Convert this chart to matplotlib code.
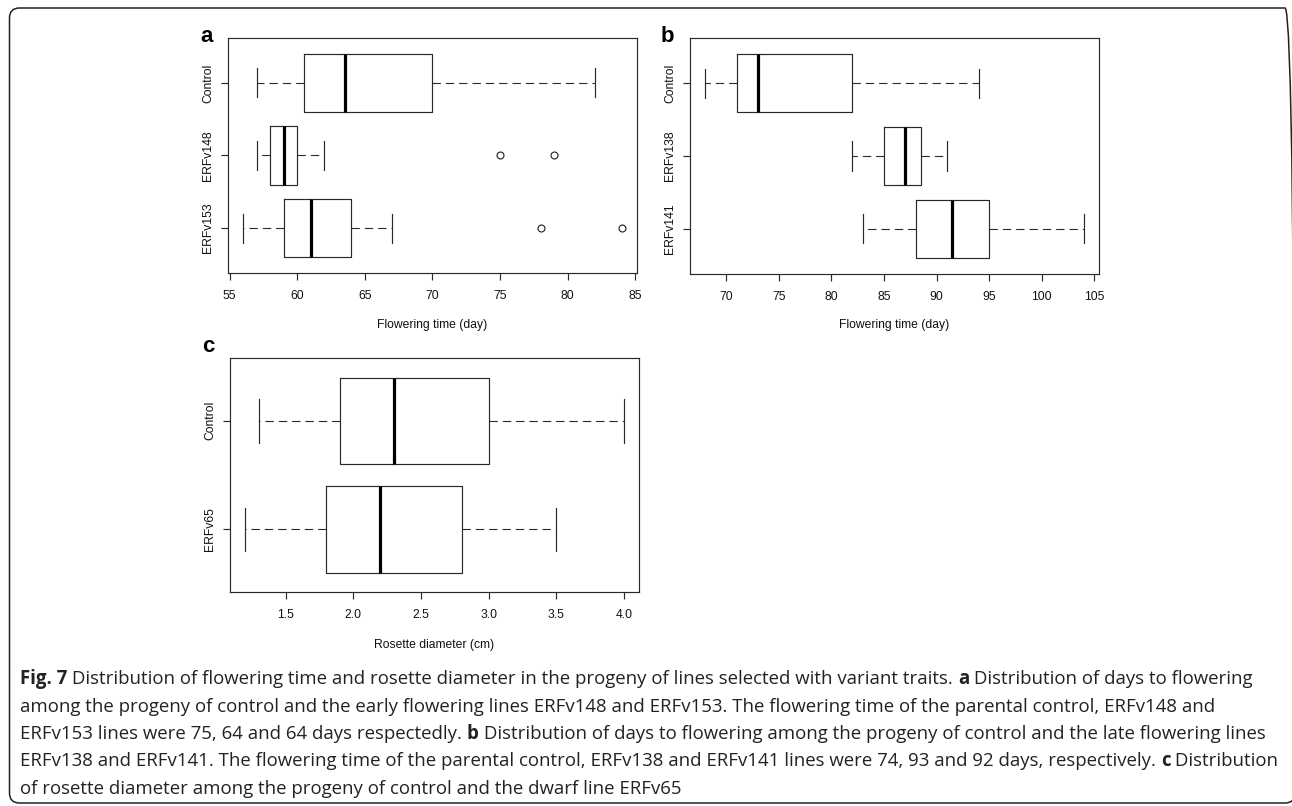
import matplotlib
matplotlib.use("Agg")
import matplotlib.pyplot as plt
from matplotlib.patches import FancyBboxPatch
from matplotlib.transforms import IdentityTransform

W, H, DPI = 1292, 806, 100

# ---------------- data ----------------
a_groups = ["Control", "ERFv148", "ERFv153"]
a_whislo = [57, 57, 56]
a_q1 = [60.5, 58, 59]
a_med = [63.5, 59, 61]
a_q3 = [70, 60, 64]
a_whishi = [82, 62, 67]
a_fliers = [[], [75, 79], [78, 84]]
a_xticks = [55, 60, 65, 70, 75, 80, 85]

b_groups = ["Control", "ERFv138", "ERFv141"]
b_whislo = [68, 82, 83]
b_q1 = [71, 85, 88]
b_med = [73, 87, 91.5]
b_q3 = [82, 88.5, 95]
b_whishi = [94, 91, 104]
b_fliers = [[], [], []]
b_xticks = [70, 75, 80, 85, 90, 95, 100, 105]

c_groups = ["Control", "ERFv65"]
c_whislo = [1.3, 1.2]
c_q1 = [1.9, 1.8]
c_med = [2.3, 2.2]
c_q3 = [3.0, 2.8]
c_whishi = [4.0, 3.5]
c_fliers = [[], []]
c_xticks = [1.5, 2.0, 2.5, 3.0, 3.5, 4.0]

xlabel_ab = "Flowering time (day)"
xlabel_c = "Rosette diameter (cm)"

caption_lines = [
    [("Fig. 7", True), (" Distribution of flowering time and rosette diameter in the progeny of lines selected with variant traits. ", False),
     ("a", True), (" Distribution of days to flowering", False)],
    [("among the progeny of control and the early flowering lines ERFv148 and ERFv153. The flowering time of the parental control, ERFv148 and", False)],
    [("ERFv153 lines were 75, 64 and 64 days respectedly. ", False), ("b", True),
     (" Distribution of days to flowering among the progeny of control and the late flowering lines", False)],
    [("ERFv138 and ERFv141. The flowering time of the parental control, ERFv138 and ERFv141 lines were 74, 93 and 92 days, respectively. ", False),
     ("c", True), (" Distribution", False)],
    [("of rosette diameter among the progeny of control and the dwarf line ERFv65", False)],
]

# ---------------- style ----------------
LC = "#2a2a2a"
AXFONT = "Liberation Sans"
CAPFONT = "Open Sans"
plt.rcParams["font.family"] = [AXFONT, "DejaVu Sans"]

fig = plt.figure(figsize=(W / DPI, H / DPI), dpi=DPI)
fig.patch.set_facecolor("white")


def px_axes(left, top, right, bottom):
    return fig.add_axes([left / W, 1 - bottom / H, (right - left) / W, (bottom - top) / H])


def panel(ax, groups, whislo, q1, med, q3, whishi, fliers, xticks, xlabel, label_y_px, ax_bottom_px, ax_h_px):
    stats = []
    for g, lo, a, m, b, hi, f in zip(groups, whislo, q1, med, q3, whishi, fliers):
        stats.append(dict(label=g, whislo=lo, q1=a, med=m, q3=b, whishi=hi, fliers=f))
    n = len(groups)
    pos = list(range(1, n + 1))
    ax.bxp(stats, positions=pos, widths=0.8, orientation="horizontal", showfliers=True,
           boxprops=dict(color=LC, linewidth=0.85),
           medianprops=dict(color="black", linewidth=2.3, solid_capstyle="butt"),
           whiskerprops=dict(color=LC, linewidth=0.8, linestyle=(0, (7.5, 4.5))),
           capprops=dict(color=LC, linewidth=0.85),
           flierprops=dict(marker="o", markersize=5.0, markerfacecolor="none",
                           markeredgecolor=LC, markeredgewidth=0.85))
    allv = list(whislo) + list(whishi) + [v for f in fliers for v in f]
    lo, hi = min(allv), max(allv)
    pad = 0.04 * (hi - lo)
    ax.set_xlim(lo - pad, hi + pad)
    ax.set_ylim(n + 0.5 + 0.04 * n, 0.5 - 0.04 * n)
    ax.set_xticks(xticks)
    ax.set_xticklabels([f"{t:g}" if max(xticks) > 10 else f"{t:.1f}" for t in xticks])
    ax.set_yticks(pos)
    ax.set_yticklabels(groups, rotation=90, va="center")
    ax.tick_params(axis="both", direction="out", length=5, width=0.85, color=LC,
                   labelsize=8.7, labelcolor="#111111")
    ax.tick_params(axis="x", pad=7)
    ax.tick_params(axis="y", pad=5)
    for s in ax.spines.values():
        s.set_color(LC)
        s.set_linewidth(0.85)
    ax.set_xlabel(xlabel, fontsize=8.7, color="#111111")
    ax.xaxis.set_label_coords(0.5, (ax_bottom_px - label_y_px) / ax_h_px)
    ax.xaxis.label.set_va("center")


axA = px_axes(228, 38, 637, 273)
panel(axA, a_groups, a_whislo, a_q1, a_med, a_q3, a_whishi, a_fliers, a_xticks, xlabel_ab, 325, 273, 235)
axB = px_axes(690, 38, 1099, 274)
panel(axB, b_groups, b_whislo, b_q1, b_med, b_q3, b_whishi, b_fliers, b_xticks, xlabel_ab, 325, 274, 236)
axC = px_axes(230, 358, 639, 592)
panel(axC, c_groups, c_whislo, c_q1, c_med, c_q3, c_whishi, c_fliers, c_xticks, xlabel_c, 645, 592, 234)

# panel letters
for letter, x, y in [("a", 207, 42), ("b", 667, 42), ("c", 208, 352)]:
    fig.text(x / W, 1 - y / H, letter, fontsize=16, fontweight="bold", ha="center", va="baseline",
             family=[AXFONT, "DejaVu Sans"])

# rounded border
border = FancyBboxPatch((9.5, H - 803), 1295 - 9.5, 803 - 8, boxstyle="round,pad=0,rounding_size=10",
                        transform=IdentityTransform(), fill=False, edgecolor="#222222", linewidth=1.1)
fig.add_artist(border)

# caption
renderer = fig.canvas.get_renderer()


def line_width(segs, size):
    total = 0
    tmp = []
    for txt, bold in segs:
        t = fig.text(0, 0, txt, fontsize=size, fontweight="bold" if bold else "normal",
                     family=[CAPFONT, "DejaVu Sans"])
        total += t.get_window_extent(renderer).width
        tmp.append(t)
    for t in tmp:
        t.remove()
    return total


base = 10.0
w0 = line_width(caption_lines[0], base)
capsize = base * 1236.0 / w0

x0 = 20
baselines = [684, 711.5, 739, 766.5, 794]
for segs, yb in zip(caption_lines, baselines):
    x = x0
    for txt, bold in segs:
        t = fig.text(x / W, 1 - yb / H, txt, fontsize=capsize, fontweight="bold" if bold else "normal",
                     family=[CAPFONT, "DejaVu Sans"], color="#222222", ha="left", va="baseline")
        x += t.get_window_extent(renderer).width

fig.savefig("out.png", dpi=DPI, facecolor="white")
